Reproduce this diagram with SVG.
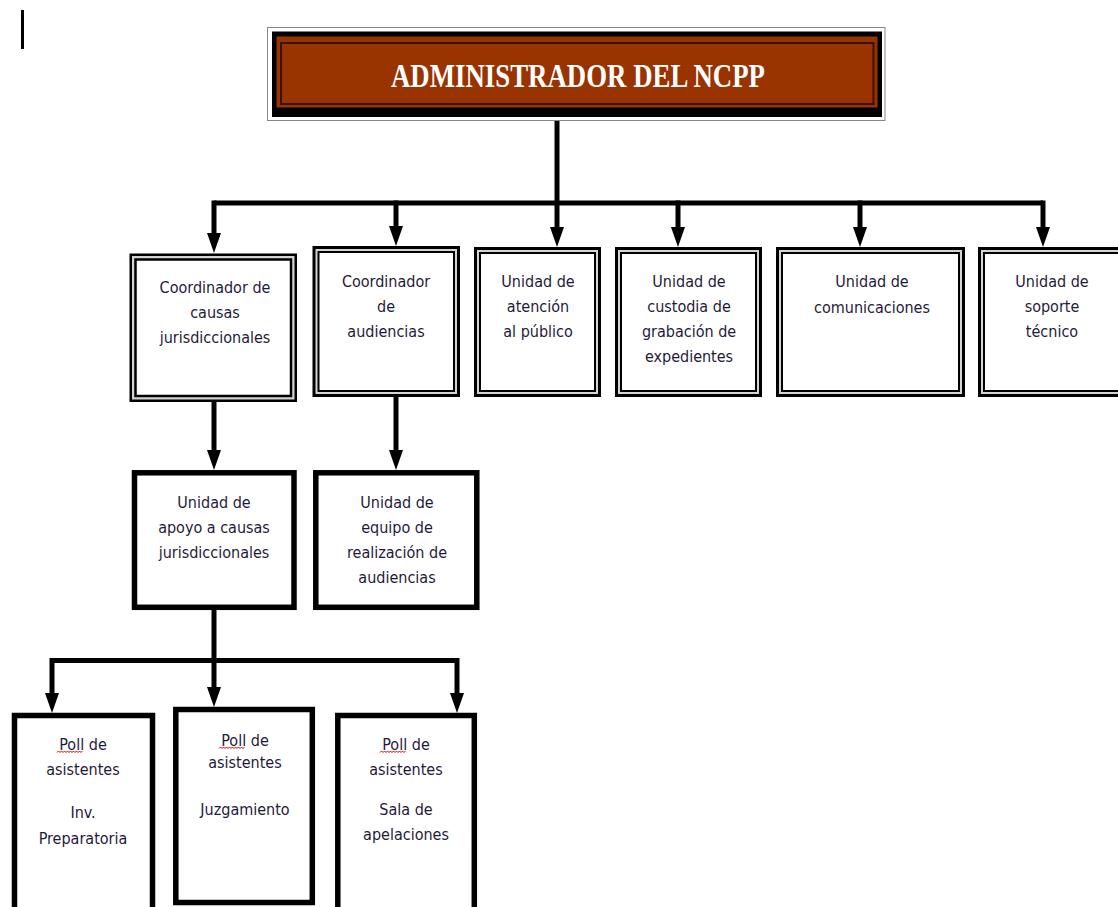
<svg xmlns="http://www.w3.org/2000/svg" width="1118" height="907" viewBox="0 0 1118 907">
<style>
.t{font-family:"DejaVu Sans Condensed","DejaVu Sans",sans-serif;font-stretch:condensed;font-size:16px;fill:#1f1a3a;text-anchor:middle}
.o{fill:#d4d4d4;stroke:#000;stroke-width:3}
.i{fill:#fff;stroke:#000;stroke-width:2}
.k{fill:#fff;stroke:#000;stroke-width:5.5}
.c{fill:none;stroke:#000;stroke-width:5;marker-end:url(#ah)}
.b{fill:none;stroke:#000;stroke-width:5}
.sq{fill:none;stroke:#e00000;stroke-width:1}
</style>
<defs>
<marker id="ah" viewBox="0 0 20 14" refX="8" refY="7" markerWidth="20" markerHeight="14" markerUnits="userSpaceOnUse" orient="auto">
<path d="M0,0 L20,7 L0,14 z" fill="#000"/>
</marker>
</defs>
<rect x="21" y="10" width="3" height="39" fill="#000"/>

<g id="connectors">
<path class="b" d="M557,118 V203"/>
<path class="b" d="M214,203 H1043"/>
<path class="c" d="M214,200.5 V241"/>
<path class="c" d="M396,200.5 V234"/>
<path class="c" d="M557,203 V235"/>
<path class="c" d="M678,200.5 V235"/>
<path class="c" d="M860,200.5 V235"/>
<path class="c" d="M1043,200.5 V235"/>
<path class="c" d="M214,400 V458"/>
<path class="c" d="M396,395 V458"/>
<path class="b" d="M214,608 V660"/>
<path class="b" d="M52,660.5 H457"/>
<path class="c" d="M214,660 V695"/>
<path class="c" d="M52,658 V701"/>
<path class="c" d="M457,658 V701"/>
</g>

<g id="admin">
<rect x="267.5" y="27.5" width="617.5" height="93" fill="#fff" stroke="#888" stroke-width="1"/>
<rect x="272" y="31.5" width="610" height="85.5" fill="#000"/>
<rect x="276.5" y="36.5" width="601" height="71" fill="#993300"/>
<rect x="281" y="43" width="592.5" height="61" fill="#993300" stroke="#3a1200" stroke-width="2"/>
<text x="578" y="87" font-family="Liberation Serif,Times New Roman,serif" font-weight="bold" font-size="33" fill="#fff" text-anchor="middle" textLength="374" lengthAdjust="spacingAndGlyphs">ADMINISTRADOR DEL NCPP</text>
</g>

<g id="coord-causas">
<rect class="o" x="130.75" y="254.75" width="165" height="146" style="stroke-width:2.5"/>
<rect class="i" x="135.5" y="259.5" width="155.5" height="136.5" style="stroke-width:2.5"/>
<text class="t" x="215" y="293">Coordinador de</text>
<text class="t" x="215" y="318">causas</text>
<text class="t" x="215" y="343">jurisdiccionales</text>
</g>

<g id="coord-audiencias">
<rect class="o" x="314" y="247.5" width="144.5" height="148"/>
<rect class="i" x="318.5" y="252" width="135.5" height="139"/>
<text class="t" x="386" y="287">Coordinador</text>
<text class="t" x="386" y="312">de</text>
<text class="t" x="386" y="337">audiencias</text>
</g>

<g id="atencion">
<rect class="o" x="475.5" y="248.5" width="124" height="147"/>
<rect class="i" x="480" y="253" width="115" height="138"/>
<text class="t" x="538" y="287">Unidad de</text>
<text class="t" x="538" y="312">atención</text>
<text class="t" x="538" y="337">al público</text>
</g>

<g id="custodia">
<rect class="o" x="616.5" y="248.5" width="144" height="147"/>
<rect class="i" x="621" y="253" width="135" height="138"/>
<text class="t" x="689" y="287">Unidad de</text>
<text class="t" x="689" y="312">custodia de</text>
<text class="t" x="689" y="337">grabación de</text>
<text class="t" x="689" y="362">expedientes</text>
</g>

<g id="comunicaciones">
<rect class="o" x="777.5" y="248.5" width="186" height="147"/>
<rect class="i" x="782" y="253" width="177" height="138"/>
<text class="t" x="872" y="287">Unidad de</text>
<text class="t" x="872" y="313">comunicaciones</text>
</g>

<g id="soporte">
<rect class="o" x="979.5" y="248.5" width="160" height="147"/>
<rect class="i" x="984" y="253" width="150" height="138"/>
<text class="t" x="1052" y="287">Unidad de</text>
<text class="t" x="1052" y="312">soporte</text>
<text class="t" x="1052" y="337">técnico</text>
</g>

<g id="apoyo">
<rect class="k" x="134.5" y="472.8" width="159.5" height="134.5"/>
<text class="t" x="214" y="508">Unidad de</text>
<text class="t" x="214" y="533">apoyo a causas</text>
<text class="t" x="214" y="558">jurisdiccionales</text>
</g>

<g id="equipo">
<rect class="k" x="315.8" y="472.8" width="161" height="134.5"/>
<text class="t" x="397" y="508">Unidad de</text>
<text class="t" x="397" y="533">equipo de</text>
<text class="t" x="397" y="558">realización de</text>
<text class="t" x="397" y="583">audiencias</text>
</g>

<g id="poll-inv">
<rect class="k" x="14.5" y="715.5" width="138" height="220"/>
<text class="t" x="83" y="750">Poll de</text>
<path class="sq" d="M57,752.5 l1.5,-1.5 l1.5,1.5 l1.5,-1.5 l1.5,1.5 l1.5,-1.5 l1.5,1.5 l1.5,-1.5 l1.5,1.5 l1.5,-1.5 l1.5,1.5 l1.5,-1.5 l1.5,1.5 l1.5,-1.5 l1.5,1.5 l1.5,-1.5 l1.5,1.5 l1.5,-1.5"/>
<text class="t" x="83" y="775">asistentes</text>
<text class="t" x="83" y="818">Inv.</text>
<text class="t" x="83" y="844">Preparatoria</text>
</g>

<g id="poll-juz">
<rect class="k" x="175.8" y="709.5" width="136.5" height="193"/>
<text class="t" x="245" y="746">Poll de</text>
<path class="sq" d="M219,748.5 l1.5,-1.5 l1.5,1.5 l1.5,-1.5 l1.5,1.5 l1.5,-1.5 l1.5,1.5 l1.5,-1.5 l1.5,1.5 l1.5,-1.5 l1.5,1.5 l1.5,-1.5 l1.5,1.5 l1.5,-1.5 l1.5,1.5 l1.5,-1.5 l1.5,1.5 l1.5,-1.5"/>
<text class="t" x="245" y="768">asistentes</text>
<text class="t" x="245" y="815">Juzgamiento</text>
</g>

<g id="poll-sala">
<rect class="k" x="337.8" y="715.5" width="136.5" height="220"/>
<text class="t" x="406" y="750">Poll de</text>
<path class="sq" d="M380,752.5 l1.5,-1.5 l1.5,1.5 l1.5,-1.5 l1.5,1.5 l1.5,-1.5 l1.5,1.5 l1.5,-1.5 l1.5,1.5 l1.5,-1.5 l1.5,1.5 l1.5,-1.5 l1.5,1.5 l1.5,-1.5 l1.5,1.5 l1.5,-1.5 l1.5,1.5 l1.5,-1.5"/>
<text class="t" x="406" y="775">asistentes</text>
<text class="t" x="406" y="815">Sala de</text>
<text class="t" x="406" y="840">apelaciones</text>
</g>
</svg>
